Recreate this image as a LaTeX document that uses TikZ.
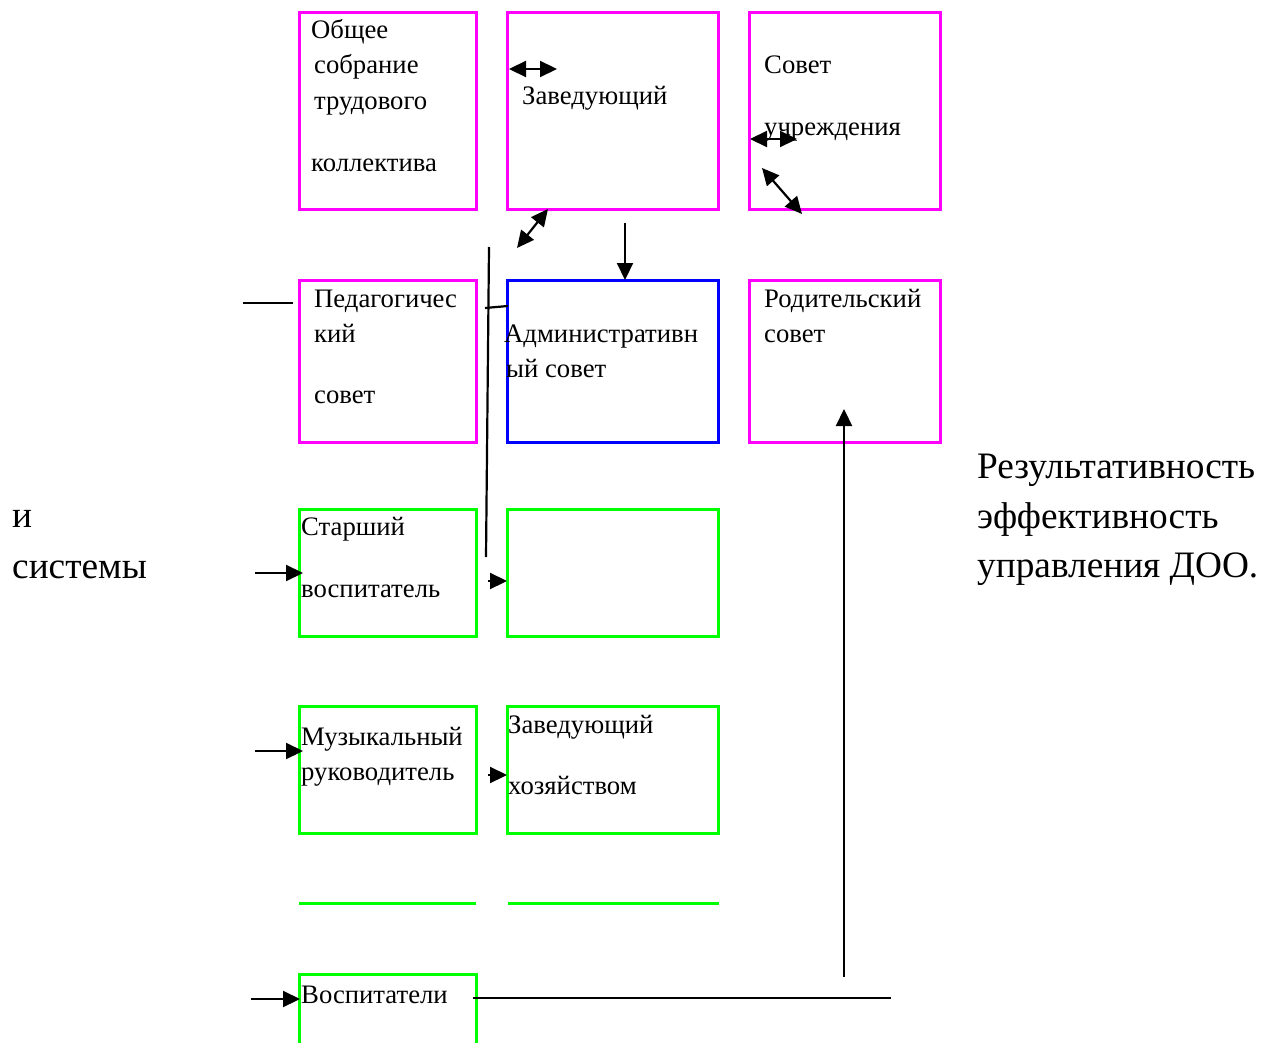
\documentclass[tikz,border=0pt]{standalone}
\usepackage{fontspec}
\setmainfont{Liberation Serif}
\usetikzlibrary{arrows.meta}
\definecolor{mag}{RGB}{255,0,255}
\definecolor{blu}{RGB}{0,0,255}
\definecolor{grn}{RGB}{0,255,0}
\begin{document}
\begin{tikzpicture}[x=1pt,y=-1pt,
  box/.style={draw, line width=3pt, anchor=north west, outer sep=0pt, inner sep=0pt},
  magbox/.style={box, draw=mag},
  blubox/.style={box, draw=blu},
  grnbox/.style={box, draw=grn},
  txt/.style={anchor=base west, inner sep=0pt, font=\fontsize{26.7}{30}\selectfont},
  side/.style={anchor=base west, inner sep=0pt, font=\fontsize{37.3}{42}\selectfont},
  conn/.style={line width=2.2pt, black},
  arr/.style={conn, -{Triangle[length=17pt,width=16pt]}},
  darr/.style={conn, {Triangle[length=17pt,width=16pt]}-{Triangle[length=17pt,width=16pt]}}]
\useasboundingbox (0,0) rectangle (1261,1043);

% row 1
\node[magbox, minimum width=177pt, minimum height=197pt] (b1) at (299,13) {};
\node[magbox, minimum width=211pt, minimum height=197pt] (b2) at (507,13) {};
\node[magbox, minimum width=191pt, minimum height=197pt] (b3) at (749,13) {};
% row 2
\node[magbox, minimum width=177pt, minimum height=162pt] (b4) at (299,280) {};
\node[blubox, minimum width=211pt, minimum height=162pt] (b5) at (507,280) {};
\node[magbox, minimum width=191pt, minimum height=162pt] (b6) at (749,280) {};
% row 3
\node[grnbox, minimum width=177pt, minimum height=127pt] (b7) at (299,509) {};
\node[grnbox, minimum width=211pt, minimum height=127pt] (b8) at (507,509) {};
% row 4
\node[grnbox, minimum width=177pt, minimum height=127pt] (b9) at (299,706) {};
\node[grnbox, minimum width=211pt, minimum height=127pt] (b10) at (507,706) {};
% green lines
\coordinate (g1a) at (299,903); \coordinate (g1b) at (476,903);
\coordinate (g2a) at (508,903); \coordinate (g2b) at (719,903);
\draw[grn, line width=3pt] (g1a) -- (g1b);
\draw[grn, line width=3pt] (g2a) -- (g2b);
% open box Воспитатели
\coordinate (b11bl) at (299,1046); \coordinate (b11tl) at (299,974);
\coordinate (b11tr) at (476,974); \coordinate (b11br) at (476,1046);
\draw[grn, line width=3pt] (b11bl) -- (b11tl) -- (b11tr) -- (b11br);

% texts
\node[txt] (t1a) at (311,39) {Общее};
\node[txt] (t1b) at (314,74) {собрание};
\node[txt] (t1c) at (314,110) {трудового};
\node[txt] (t1d) at (311,172) {коллектива};
\node[txt] (t2) at (522,105) {Заведующий};
\node[txt] (t3a) at (764,74) {Совет};
\node[txt] (t3b) at (764,136) {учреждения};
\node[txt] (t4a) at (314,307) {Педагогичес};
\node[txt] (t4b) at (314,342) {кий};
\node[txt] (t4c) at (314,403) {совет};
\node[txt] (t5a) at (504,342) {Административн};
\node[txt] (t5b) at (506,377) {ый совет};
\node[txt] (t6a) at (764,307) {Родительский};
\node[txt] (t6b) at (764,342) {совет};
\node[txt] (t7a) at (301,535) {Старший};
\node[txt] (t7b) at (301,597) {воспитатель};
\node[txt] (t9a) at (301,745) {Музыкальный};
\node[txt] (t9b) at (301,780) {руководитель};
\node[txt] (t10a) at (508,733) {Заведующий};
\node[txt] (t10b) at (508,794) {хозяйством};
\node[txt] (t11) at (301,1003) {Воспитатели};
\node[side] (l1) at (12,527) {и};
\node[side] (l2) at (12,578) {системы};
\node[side] (r1) at (977,478) {Результативность};
\node[side] (r2) at (977,528) {эффективность};
\node[side] (r3) at (977,577) {управления ДОО.};

% connectors
\coordinate (a1s) at (509,69); \coordinate (a1e) at (557,69);
\draw[darr] (a1s) -- (a1e);
\coordinate (a2s) at (750,139); \coordinate (a2e) at (797,139);
\draw[darr] (a2s) -- (a2e);
\coordinate (a3s) at (762,168); \coordinate (a3e) at (802,214);
\draw[darr] (a3s) -- (a3e);
\coordinate (a4s) at (548,209); \coordinate (a4e) at (517,248);
\draw[darr] (a4s) -- (a4e);
\coordinate (a5s) at (625,223);
\draw[arr] (a5s) -- (b5.north -| a5s);
\coordinate (v1) at (489,247); \coordinate (v2) at (486,557);
\draw[conn] (v1) -- (v2);
\coordinate (h1) at (485,308); \coordinate (h2) at (508,306);
\draw[conn] (h1) -- (h2);
\coordinate (p1) at (243,303); \coordinate (p2) at (293,303);
\draw[conn] (p1) -- (p2);
\coordinate (s7) at (255,573); \coordinate (e7) at (303,573);
\draw[arr] (s7) -- (e7);
\coordinate (s9) at (255,751); \coordinate (e9) at (303,751);
\draw[arr] (s9) -- (e9);
\coordinate (s11) at (251,999); \coordinate (e11) at (300,999);
\draw[arr] (s11) -- (e11);
\coordinate (s8) at (488,581);
\draw[arr] (s8) -- (b8.west |- s8);
\coordinate (s10) at (488,775);
\draw[arr] (s10) -- (b10.west |- s10);
\coordinate (u1) at (844,977); \coordinate (u2) at (844,409);
\draw[arr] (u1) -- (u2);
\coordinate (w1) at (473,998); \coordinate (w2) at (891,998);
\draw[conn] (w1) -- (w2);
\end{tikzpicture}
\end{document}
